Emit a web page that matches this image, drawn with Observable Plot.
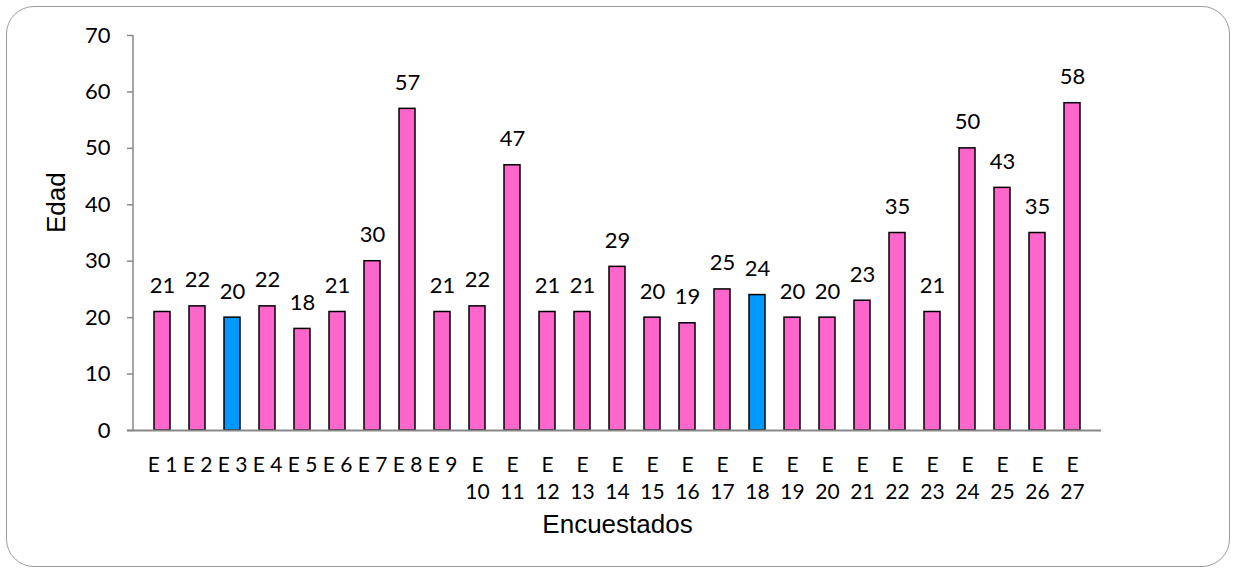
<!DOCTYPE html>
<html><head><meta charset="utf-8">
<script src="https://cdn.jsdelivr.net/npm/d3@7"></script>
<script src="https://cdn.jsdelivr.net/npm/@observablehq/plot@0.6"></script>
<style>
body{margin:0;background:#fff;}
#wrap{position:relative;width:1236px;height:573px;}
#border{position:absolute;left:6px;top:6px;width:1222px;height:559px;border:1.5px solid #9a9a9a;border-radius:28px;pointer-events:none;}
#chart{position:absolute;left:0;top:0;}
</style></head><body>
<div id="wrap"><div id="chart"></div><div id="border"></div></div>
<script>
const categories = ["E 1","E 2","E 3","E 4","E 5","E 6","E 7","E 8","E 9","E 10","E 11","E 12","E 13","E 14","E 15","E 16","E 17","E 18","E 19","E 20","E 21","E 22","E 23","E 24","E 25","E 26","E 27"];
const tickLabels = ["E 1","E 2","E 3","E 4","E 5","E 6","E 7","E 8","E 9","E\n10","E\n11","E\n12","E\n13","E\n14","E\n15","E\n16","E\n17","E\n18","E\n19","E\n20","E\n21","E\n22","E\n23","E\n24","E\n25","E\n26","E\n27"];
const values = [21,22,20,22,18,21,30,57,21,22,47,21,21,29,20,19,25,24,20,20,23,35,21,50,43,35,58];
const highlighted = ["E 3","E 18"];
const yTicks = [0,10,20,30,40,50,60,70];
const yTitle = "Edad";
const xTitle = "Encuestados";

const data = categories.map((c,i)=>({cat:c, value:values[i], group: highlighted.includes(c) ? "destacado" : "normal"}));

const plot = Plot.plot({
  width:1236, height:573,
  marginLeft:133, marginRight:135, marginTop:35, marginBottom:143,
  style:{background:"transparent", fontFamily:"Lato", color:"#000"},
  x:{domain:categories, paddingInner:0.53, paddingOuter:0.3, label:null},
  y:{domain:[0,70], label:null},
  color:{domain:["normal","destacado"], range:["#FF66CC","#0099FF"]},
  marks:[
    Plot.axisY({ticks:yTicks, tickSize:6, tickPadding:17, fontSize:22, stroke:"#888", strokeWidth:1.5, label:null}),
    Plot.axisX({tickSize:0, tickPadding:22, fontSize:21, lineHeight:1.3, tickFormat:d=>tickLabels[categories.indexOf(d)], label:null}),
    Plot.barY(data,{x:"cat", y:"value", fill:"group", stroke:"#000", strokeWidth:1.5}),
    Plot.ruleY([0],{stroke:"#888", strokeWidth:2, insetLeft:-6}),
    Plot.text(data,{x:"cat", y:"value", text:d=>String(d.value), dy:-26, fontSize:22}),
    Plot.text([yTitle],{frameAnchor:"left", dx:-77, rotate:-90, fontSize:26, fontFamily:"Liberation Sans"}),
    Plot.text([xTitle],{frameAnchor:"bottom", dy:102, fontSize:26, fontFamily:"Liberation Sans"})
  ]
});
const ys = plot.scale("y"), xs = plot.scale("x");
d3.select(plot).insert("line", ":first-child")
  .attr("x1", xs.range[0]).attr("x2", xs.range[0])
  .attr("y1", ys.apply(70)).attr("y2", ys.apply(0))
  .attr("stroke","#888").attr("stroke-width",1.5);
document.getElementById("chart").appendChild(plot);
</script>
</body></html>
